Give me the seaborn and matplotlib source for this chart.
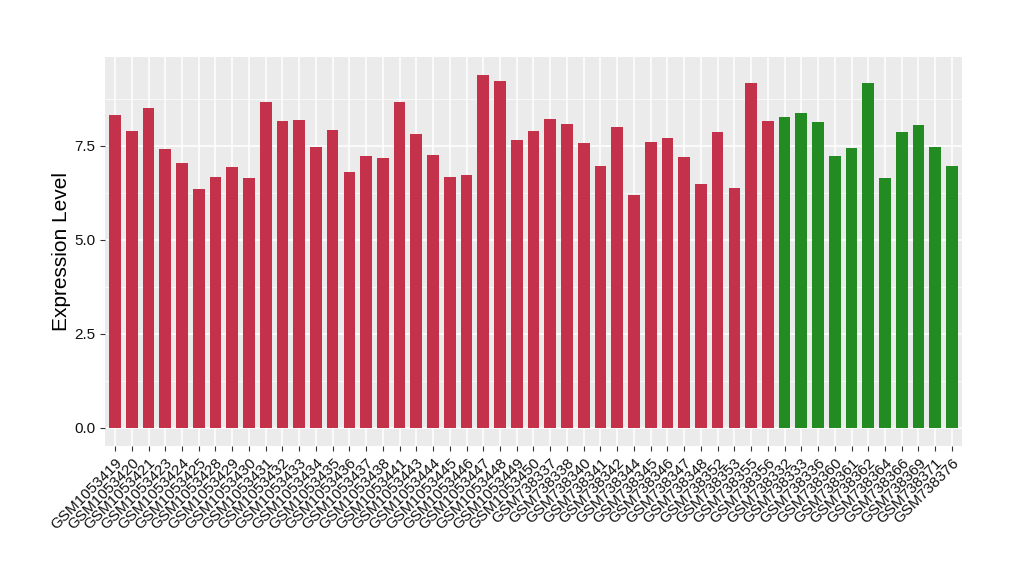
import numpy as np
import pandas as pd
import seaborn as sns
import matplotlib.pyplot as plt

red_samples = ['GSM1053419', 'GSM1053420', 'GSM1053421', 'GSM1053423', 'GSM1053424',
               'GSM1053425', 'GSM1053428', 'GSM1053429', 'GSM1053430', 'GSM1053431',
               'GSM1053432', 'GSM1053433', 'GSM1053434', 'GSM1053435', 'GSM1053436',
               'GSM1053437', 'GSM1053438', 'GSM1053441', 'GSM1053443', 'GSM1053444',
               'GSM1053445', 'GSM1053446', 'GSM1053447', 'GSM1053448', 'GSM1053449',
               'GSM1053450', 'GSM738337', 'GSM738338', 'GSM738340', 'GSM738341',
               'GSM738342', 'GSM738344', 'GSM738345', 'GSM738346', 'GSM738347',
               'GSM738348', 'GSM738352', 'GSM738353', 'GSM738355', 'GSM738356']
red_values = [8.32, 7.90, 8.51, 7.42, 7.05, 6.36, 6.68, 6.94, 6.65, 8.67,
              8.16, 8.19, 7.47, 7.92, 6.81, 7.23, 7.18, 8.67, 7.82, 7.26,
              6.68, 6.73, 9.38, 9.22, 7.66, 7.90, 8.22, 8.08, 7.58, 6.97,
              8.00, 6.20, 7.61, 7.71, 7.21, 6.48, 7.87, 6.39, 9.17, 8.16]

green_samples = ['GSM738332', 'GSM738333', 'GSM738336', 'GSM738360', 'GSM738361',
                 'GSM738362', 'GSM738364', 'GSM738366', 'GSM738369', 'GSM738371',
                 'GSM738376']
green_values = [8.27, 8.37, 8.14, 7.23, 7.45, 9.17, 6.65, 7.87, 8.06, 7.47, 6.97]

df = pd.DataFrame({
    'sample': red_samples + green_samples,
    'value': red_values + green_values,
    'group': ['red'] * len(red_samples) + ['green'] * len(green_samples),
})

plt.rcParams['font.family'] = ['Liberation Sans', 'DejaVu Sans']

fig = plt.figure(figsize=(10.2, 5.8), dpi=100)
ax = fig.add_axes([105 / 1020, 1 - 446 / 580, (962 - 105) / 1020, (446 - 57) / 580])
ax.set_facecolor('#EBEBEB')

sns.barplot(data=df, x='sample', y='value', hue='group',
            palette={'red': '#C3314A', 'green': '#228B22'}, saturation=1,
            width=0.7, dodge=False, legend=False, ax=ax, zorder=3)

# ggplot-like grid
ax.set_yticks([0, 2.5, 5.0, 7.5])
ax.set_yticklabels(['0.0', '2.5', '5.0', '7.5'])
ax.set_yticks([1.25, 3.75, 6.25, 8.75], minor=True)
ax.grid(which='major', color='white', linewidth=1.1, zorder=0)
ax.grid(which='minor', axis='y', color='white', linewidth=0.5, zorder=0)
ax.set_axisbelow(True)
for s in ax.spines.values():
    s.set_visible(False)

ax.set_xlim(-0.6, len(df) - 0.4)
ax.set_ylim(-0.48, 9.86)
ax.tick_params(axis='both', which='major', length=3.5, color='#333333',
               labelsize=11, labelcolor='#111111')
ax.tick_params(axis='y', which='minor', length=0)
plt.setp(ax.get_xticklabels(), rotation=45, ha='right', va='top',
         rotation_mode='anchor')

ax.set_xlabel('')
ax.set_ylabel('Expression Level', fontsize=15, labelpad=2)

fig.savefig('out.png', dpi=100)
